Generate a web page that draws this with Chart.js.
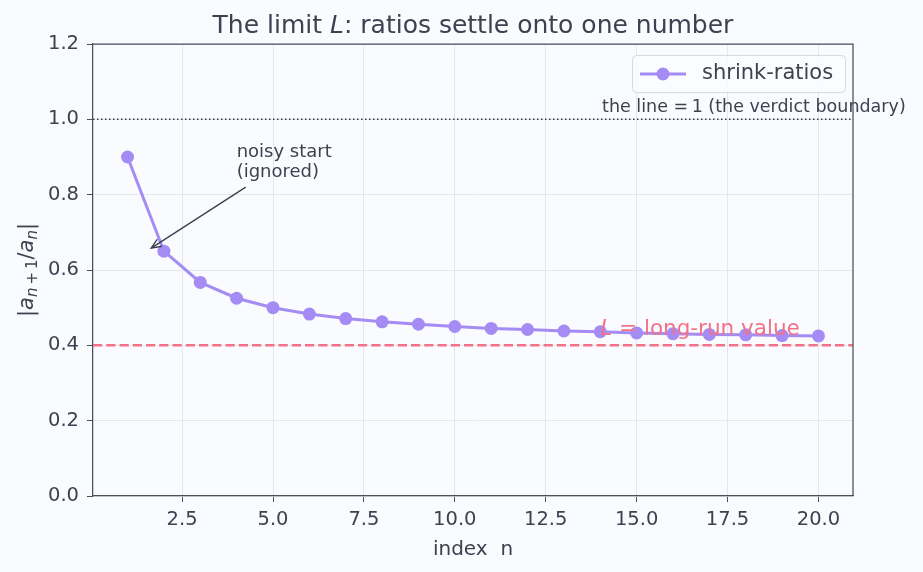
<!DOCTYPE html>
<html>
<head>
<meta charset="utf-8">
<script src="https://cdn.jsdelivr.net/npm/chart.js@4.4.1/dist/chart.umd.min.js"></script>
<style>
  html, body { margin: 0; padding: 0; background: #fafbfe; }
  #wrap { width: 923px; height: 572px; position: relative; }
</style>
</head>
<body>
<div id="wrap"><canvas id="chart"></canvas></div>
<script>
  // ---- data ----
  const indexN = [1, 2, 3, 4, 5, 6, 7, 8, 9, 10, 11, 12, 13, 14, 15, 16, 17, 18, 19, 20];
  const shrinkRatios = [0.9, 0.65, 0.567, 0.525, 0.5, 0.483, 0.471, 0.4625, 0.456, 0.45,
                        0.445, 0.442, 0.438, 0.436, 0.433, 0.431, 0.429, 0.428, 0.426, 0.425];
  const xTickValues = [2.5, 5, 7.5, 10, 12.5, 15, 17.5, 20];
  const yTickValues = [0, 0.2, 0.4, 0.6, 0.8, 1.0, 1.2];
  const limitL = 0.4;
  const verdictLine = 1.0;

  const FONT = "'DejaVu Sans', sans-serif";
  const INK = '#3d4250';
  const SPINE = '#4a4f5c';
  const PURPLE = '#a48cf4';
  const ROSE = '#f27389';
  const BG = '#fafbfe';

  function font(size, italic) {
    return (italic ? 'italic ' : '') + size + 'px ' + FONT;
  }

  // draw a run of [text, size, italic, dy] pieces starting at x
  function drawRun(ctx, pieces, x, y) {
    pieces.forEach(function(p) {
      ctx.font = font(p[1], p[2]);
      ctx.fillText(p[0], x, y + (p[3] || 0));
      x += ctx.measureText(p[0]).width;
    });
  }
  function runWidth(ctx, pieces) {
    let w = 0;
    pieces.forEach(function(p) {
      ctx.font = font(p[1], p[2]);
      w += ctx.measureText(p[0]).width;
    });
    return w;
  }

  const decorPlugin = {
    id: 'decor',
    beforeDraw(chart) {
      const ctx = chart.ctx;
      ctx.save();
      ctx.fillStyle = BG;
      ctx.fillRect(0, 0, chart.width, chart.height);
      ctx.restore();
    },
    beforeDatasetsDraw(chart) {
      const ctx = chart.ctx;
      const a = chart.chartArea;
      const ys = chart.scales.y;
      ctx.save();
      // L line
      ctx.strokeStyle = ROSE;
      ctx.lineWidth = 2.5;
      ctx.setLineDash([9.25, 4]);
      let py = ys.getPixelForValue(limitL);
      ctx.beginPath(); ctx.moveTo(a.left, py); ctx.lineTo(a.right, py); ctx.stroke();
      // verdict boundary
      ctx.strokeStyle = '#3a3f4c';
      ctx.lineWidth = 1.5;
      ctx.setLineDash([1.5, 2.5]);
      py = ys.getPixelForValue(verdictLine);
      ctx.beginPath(); ctx.moveTo(a.left, py); ctx.lineTo(a.right, py); ctx.stroke();
      ctx.restore();
    },
    afterDraw(chart) {
      const ctx = chart.ctx;
      const a = chart.chartArea;
      const xs = chart.scales.x;
      const ys = chart.scales.y;
      ctx.save();

      // top / right spines
      ctx.strokeStyle = SPINE;
      ctx.lineWidth = 1.25;
      ctx.beginPath();
      ctx.moveTo(a.left, a.top); ctx.lineTo(a.right, a.top); ctx.lineTo(a.right, a.bottom);
      ctx.stroke();

      ctx.fillStyle = INK;
      ctx.textBaseline = 'alphabetic';
      ctx.textAlign = 'left';

      // title
      const title = [['The limit ', 25, false], ['L', 25, true], [': ratios settle onto one number', 25, false]];
      const cx = (a.left + a.right) / 2;
      drawRun(ctx, title, cx - runWidth(ctx, title) / 2, 33);

      // x label
      const xl = [['index  n', 20, false]];
      drawRun(ctx, xl, cx - runWidth(ctx, xl) / 2, 555);

      // y label (rotated)
      const yl = [['|', 21, false], ['a', 21, true], ['n', 15, true, 4], ['\u2009+\u20091', 15, false, 4],
                  ['/', 21, false], ['a', 21, true], ['n', 15, true, 4], ['|', 21, false]];
      ctx.save();
      ctx.translate(33, (a.top + a.bottom) / 2);
      ctx.rotate(-Math.PI / 2);
      drawRun(ctx, yl, -runWidth(ctx, yl) / 2, 0);
      ctx.restore();

      // annotation: noisy start
      const tx = xs.getPixelForValue(4.0);
      ctx.font = font(18, false);
      ctx.fillText('noisy start', tx, 157);
      ctx.fillText('(ignored)', tx, 177);
      const x0 = xs.getPixelForValue(4.25), y0 = ys.getPixelForValue(0.82);
      const x1 = xs.getPixelForValue(1.65), y1 = ys.getPixelForValue(0.658);
      ctx.strokeStyle = '#3a3f4c';
      ctx.lineWidth = 1.3;
      ctx.beginPath(); ctx.moveTo(x0, y0); ctx.lineTo(x1, y1); ctx.stroke();
      const ang = Math.atan2(y1 - y0, x1 - x0);
      ctx.beginPath();
      ctx.moveTo(x1 - 11 * Math.cos(ang - 0.4), y1 - 11 * Math.sin(ang - 0.4));
      ctx.lineTo(x1, y1);
      ctx.lineTo(x1 - 11 * Math.cos(ang + 0.4), y1 - 11 * Math.sin(ang + 0.4));
      ctx.stroke();

      // boundary label
      const bx = xs.getPixelForValue(14.05);
      drawRun(ctx, [['the line ', 17.5, false], ['=\u2009', 17.5, false], ['1 (the verdict boundary)', 17.5, false]],
              bx, ys.getPixelForValue(verdictLine) - 7);

      // L label
      ctx.fillStyle = ROSE;
      drawRun(ctx, [['L', 21.5, true], [' = long-run value', 21.5, false]],
              xs.getPixelForValue(14.0), ys.getPixelForValue(limitL) - 10);

      // legend
      const lx = 632, ly = 55, lw = 213, lh = 37;
      ctx.fillStyle = 'rgba(250,251,254,0.85)';
      ctx.strokeStyle = '#d6d9df';
      ctx.lineWidth = 1;
      ctx.beginPath();
      ctx.roundRect(lx + 0.5, ly + 0.5, lw, lh, 4);
      ctx.fill(); ctx.stroke();
      const my = ly + lh / 2 + 0.5;
      ctx.strokeStyle = PURPLE;
      ctx.lineWidth = 3;
      ctx.beginPath(); ctx.moveTo(lx + 8, my); ctx.lineTo(lx + 54, my); ctx.stroke();
      ctx.fillStyle = PURPLE;
      ctx.beginPath(); ctx.arc(lx + 31, my, 6.5, 0, Math.PI * 2); ctx.fill();
      ctx.fillStyle = INK;
      ctx.font = font(21, false);
      ctx.textBaseline = 'middle';
      ctx.fillText(chart.data.datasets[0].label, lx + 70, my);

      ctx.restore();
    }
  };

  new Chart(document.getElementById('chart'), {
    type: 'line',
    data: {
      datasets: [{
        label: 'shrink-ratios',
        data: indexN.map(function(n, i) { return { x: n, y: shrinkRatios[i] }; }),
        borderColor: PURPLE,
        backgroundColor: PURPLE,
        borderWidth: 3,
        pointRadius: 6.5,
        pointBorderWidth: 0,
        pointBackgroundColor: PURPLE,
        tension: 0
      }]
    },
    options: {
      responsive: true,
      maintainAspectRatio: false,
      animation: false,
      layout: { padding: { left: 0, top: 44, right: 70, bottom: 0 } },
      plugins: {
        legend: { display: false },
        title: { display: false },
        tooltip: { enabled: false }
      },
      scales: {
        x: {
          type: 'linear',
          min: 0.05,
          max: 20.95,
          afterFit: function(s) { s.height = 76; },
          afterBuildTicks: function(s) { s.ticks = xTickValues.map(function(v) { return { value: v }; }); },
          grid: { color: '#e5e7ed', lineWidth: 1, tickColor: SPINE, tickLength: 6 },
          border: { color: SPINE, width: 1.25 },
          ticks: {
            color: INK,
            padding: 6,
            maxRotation: 0,
            font: { family: 'DejaVu Sans', size: 19.5 },
            callback: function(v) { return v.toFixed(1); }
          }
        },
        y: {
          min: 0,
          max: 1.2,
          afterFit: function(s) { s.width = 93; },
          afterBuildTicks: function(s) { s.ticks = yTickValues.map(function(v) { return { value: v }; }); },
          grid: { color: '#e5e7ed', lineWidth: 1, tickColor: SPINE, tickLength: 6 },
          border: { color: SPINE, width: 1.25 },
          ticks: {
            color: INK,
            padding: 8,
            font: { family: 'DejaVu Sans', size: 19.5 },
            callback: function(v) { return v.toFixed(1); }
          }
        }
      }
    },
    plugins: [decorPlugin]
  });
</script>
</body>
</html>
